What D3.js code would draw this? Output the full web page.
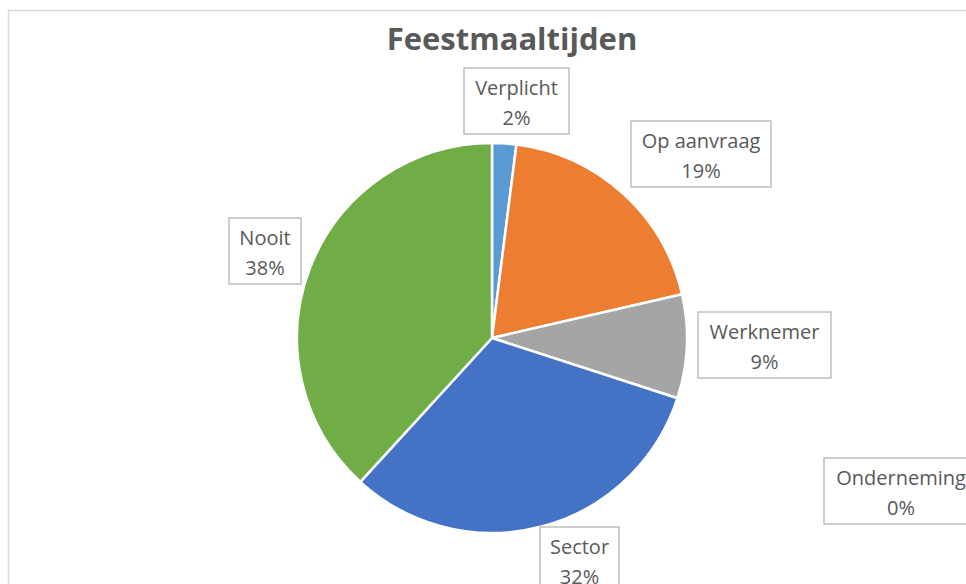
<!DOCTYPE html>
<html>
<head>
<meta charset="utf-8">
<script src="https://cdn.jsdelivr.net/npm/d3@7"></script>
<style>
  body { margin: 0; background: #fff; }
  svg { display: block; }
</style>
</head>
<body>
<script>
var categories = ["Verplicht", "Op aanvraag", "Werknemer", "Onderneming", "Sector", "Nooit"];
var values = [2.0, 19.4, 8.6, 0, 31.8, 38.2];
var labels = ["2%", "19%", "9%", "0%", "32%", "38%"];
var colors = ["#5B9BD5", "#ED7D31", "#A5A5A5", "#FFC000", "#4472C4", "#70AD47"];

// label box placement (center x, center y, box width)
var labelBoxes = [
    [516.5, 101, 105],
    [701, 154, 140],
    [764.5, 345, 133],
    [901, 491, 154],
    [579.5, 560, 79],
    [265, 251, 72]
];

var width = 966,
    height = 584,
    cx = 492,
    cy = 338,
    radius = 195;

var svg = d3.select("body").append("svg")
    .attr("width", width)
    .attr("height", height);

// chart area border
svg.append("rect")
    .attr("x", 8.5)
    .attr("y", 10.5)
    .attr("width", 1000)
    .attr("height", 1000)
    .attr("fill", "#fff")
    .attr("stroke", "#D9D9D9")
    .attr("stroke-width", 1.5);

svg.append("text")
    .attr("x", 512)
    .attr("y", 50)
    .attr("text-anchor", "middle")
    .attr("font-family", "'Open Sans', sans-serif")
    .attr("font-weight", "bold")
    .attr("font-size", 31)
    .attr("fill", "#595959")
    .text("Feestmaaltijden");

var data = categories.map(function (c, i) {
    return {name: c, value: values[i], label: labels[i], color: colors[i], box: labelBoxes[i]};
});

var pie = d3.pie()
    .sort(null)
    .value(function (d) { return d.value; });

var arc = d3.arc()
    .innerRadius(0)
    .outerRadius(radius);

var g = svg.append("g")
    .attr("transform", "translate(" + cx + "," + cy + ")");

g.selectAll("path")
    .data(pie(data))
    .enter()
    .append("path")
    .attr("d", arc)
    .attr("fill", function (d) { return d.data.color; })
    .attr("stroke", "#fff")
    .attr("stroke-width", 2.5)
    .attr("stroke-linejoin", "round");

var lbl = svg.selectAll(".lbl")
    .data(data)
    .enter()
    .append("g")
    .attr("class", "lbl")
    .attr("transform", function (d) { return "translate(" + d.box[0] + "," + d.box[1] + ")"; });

lbl.append("rect")
    .attr("x", function (d) { return -d.box[2] / 2; })
    .attr("y", -33)
    .attr("width", function (d) { return d.box[2]; })
    .attr("height", 66)
    .attr("fill", "#fff")
    .attr("stroke", "#BFBFBF")
    .attr("stroke-width", 1.5);

lbl.append("text")
    .attr("y", -6)
    .attr("text-anchor", "middle")
    .attr("font-family", "'Open Sans', sans-serif")
    .attr("font-size", 20)
    .attr("fill", "#595959")
    .text(function (d) { return d.name; });

lbl.append("text")
    .attr("y", 24)
    .attr("text-anchor", "middle")
    .attr("font-family", "'Open Sans', sans-serif")
    .attr("font-size", 20)
    .attr("fill", "#595959")
    .text(function (d) { return d.label; });
</script>
</body>
</html>
